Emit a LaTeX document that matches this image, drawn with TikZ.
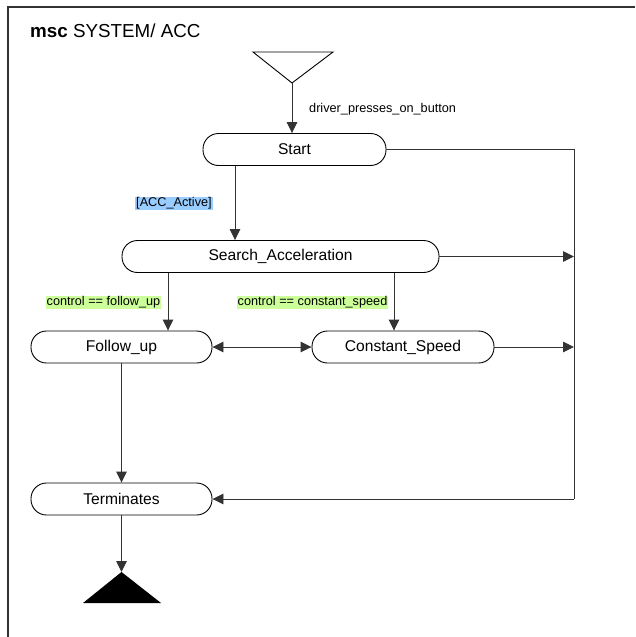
\documentclass[tikz,border=0pt]{standalone}
\usepackage{fontspec}
\setmainfont{Liberation Sans}
\usetikzlibrary{arrows.meta}
\definecolor{guardblue}{HTML}{99CCFF}
\definecolor{guardgreen}{HTML}{CCFF99}
\definecolor{wire}{HTML}{333333}
\tikzset{
  tip/.tip={Triangle[length=11pt,width=10.5pt]},
  state/.style={draw=black, line width=0.9pt, rounded corners=15.5pt, inner sep=0pt,
    minimum height=32pt, font=\fontsize{15.6}{18}\selectfont},
  arr/.style={draw=wire, line width=0.9pt, -tip},
  biarr/.style={draw=wire, line width=0.9pt, tip-tip},
  wireline/.style={draw=wire, line width=0.9pt},
  lbl/.style={inner sep=1pt, font=\fontsize{12.7}{14}\selectfont},
  blueguard/.style={lbl, fill=guardblue},
  greenguard/.style={lbl, fill=guardgreen},
}
\begin{document}
\begin{tikzpicture}[x=1pt, y=-1pt]
\useasboundingbox (0,0) rectangle (635,637);
% frame
\draw[draw=wire, line width=1.4pt] (8,637) -- (8,7) -- (635,7);
\node[anchor=base west, inner sep=0pt, font=\fontsize{18.8}{22}\selectfont] (title) at (30,37) {\textbf{msc} SYSTEM/ ACC};

% initial state symbol
\coordinate (initapex) at (292,83);
\draw[line width=0.9pt] (253,52) -- (333,52) -- (initapex) -- cycle;

% states
\node[state, minimum width=183pt] (start) at (294.5,149.5) {Start};
\node[state, minimum width=317pt] (search) at (280.5,256.5) {Search\_Acceleration};
\node[state, minimum width=181pt] (follow) at (121.5,347) {Follow\_up};
\node[state, minimum width=182pt] (const) at (403,347) {Constant\_Speed};
\node[state, minimum width=181pt] (term) at (121.5,499) {Terminates};

% right-hand bus
\coordinate (bus) at (574,0);

% transitions
\draw[arr] (initapex) -- (initapex |- start.north);
\node[lbl, anchor=west] (drv) at (308,109) {driver\_presses\_on\_button};

\coordinate (xa) at (235,0);
\draw[arr] (start.south -| xa) -- (search.north -| xa);
\node[blueguard] (accact) at (174,203.5) {[ACC\_Active]};

\coordinate (xf) at (168,0);
\coordinate (xc) at (394,0);
\draw[arr] (search.south -| xf) -- (follow.north -| xf);
\draw[arr] (search.south -| xc) -- (const.north -| xc);
\node[greenguard] (gfollow) at (103.5,302.5) {control == follow\_up};
\node[greenguard] (gconst) at (312.5,302.5) {control == constant\_speed};

\draw[biarr] (follow.east) -- (const.west);

\draw[arr] (search.east) -- (search.east -| bus);
\draw[arr] (const.east) -- (const.east -| bus);
\draw[wireline] (start.east) -- (start.east -| bus) -- (term.east -| bus);
\draw[arr] (term.east -| bus) -- (term.east);

\draw[arr] (follow.south) -- (term.north);

% final state symbol
\coordinate (endapex) at (121.5,572);
\fill (endapex) -- (161,603) -- (83,603) -- cycle;
\draw[arr] (term.south) -- (endapex);
\end{tikzpicture}
\end{document}
